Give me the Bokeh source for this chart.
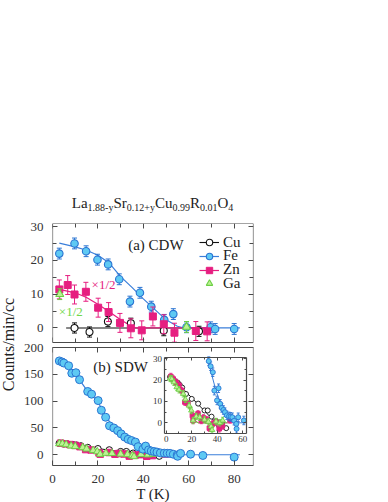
import numpy as np
from bokeh.plotting import figure
from bokeh.models import (Range1d, LinearAxis, FixedTicker, Label, Legend, LegendItem,
                          Spacer, Div)
from bokeh.layouts import column
from bokeh.embed import file_html
from bokeh.resources import INLINE

FONT = "Liberation Serif"

# ---------------- data: panel (a) CDW ----------------
cu_a_T = [9.7, 16.3, 24.4, 34.5, 49.0, 64.5]
cu_a_I = [0.0, -1.2, 1.9, 1.4, -0.8, -1.0]
cu_a_err = [1.5, 1.5, 1.5, 1.5, 1.5, 1.5]
cu_a_line_T = [6.0, 70.0]
cu_a_line_I = [0.0, 0.0]

fe_a_T = [3.0, 9.7, 14.8, 19.8, 24.5, 29.4, 34.1, 38.5, 43.5, 49.2, 53.2, 59.0, 69.6, 71.6, 80.0]
fe_a_I = [22.0, 25.0, 22.7, 20.2, 18.8, 14.4, 7.8, 10.4, 6.3, 2.4, 4.1, 0.2, 0.2, -0.3, -0.3]
fe_a_err = [1.6] * 15
fe_a_fit_T = [3, 10, 15, 20, 25, 30, 35, 40, 45, 50, 55, 58, 82.5]
fe_a_fit_I = [25.1, 24.0, 23.0, 21.5, 19.2, 15.2, 12.0, 8.6, 5.5, 2.4, 0.5, 0.0, 0.0]

zn_a_T = [3.0, 6.7, 9.7, 14.7, 20.1, 24.7, 29.7, 34.5, 39.3, 44.2, 49.0, 53.7, 63.1, 68.1]
zn_a_I = [11.4, 12.7, 9.9, 10.7, 6.0, 4.7, 1.5, -0.1, -0.7, 3.4, 1.1, -1.4, -0.9, -1.0]
zn_a_err = [2.8] * 14
zn_a_fit_T = [3, 10, 15, 20, 25, 30, 35, 37, 71]
zn_a_fit_I = [11.4, 10.4, 9.0, 7.0, 4.8, 2.4, 0.4, 0.0, 0.0]

ga_a_T = [3.2, 59.0]
ga_a_I = [10.0, 0.3]
ga_a_err = [1.6, 1.6]

# ---------------- data: panel (b) SDW ----------------
fe_b_T = [3.0, 4.2, 5.0, 7.1, 8.5, 10.3, 11.9, 15.5, 17.2, 20.1, 21.5, 23.4, 25.1, 27.0, 28.7,
          30.2, 31.8, 33.3, 34.8, 36.5, 37.7, 39.8, 41.0, 42.3, 43.5, 44.8, 46.0, 47.5, 49.2,
          50.5, 51.8, 53.2, 54.9, 55.1, 56.4, 60.8, 66.2, 80.0]
fe_b_I = [175, 173, 171, 166, 152, 153, 140, 118, 113, 101, 83, 70, 54, 50, 45,
          39, 33, 28.9, 26.5, 23.7, 15.1, 10.5, 16.2, 8.9, 7.0, 6.0, 5.0, 3.5, 3.0,
          2.8, 2.6, 1.0, -0.5, -2.8, 2.6, 1.1, -1.3, -4.4]
fe_b_err = [2.0] * 38
fe_b_fit_T = [3, 5, 8, 10, 12, 15, 18, 20, 22, 24, 26, 28, 30, 32.5, 35, 39, 42, 44.6, 48, 53.5, 55, 82.5]
fe_b_fit_I = [175, 171, 161, 151, 139, 121, 108, 98, 84, 69, 56, 47, 38, 30.5, 24, 15, 10, 6, 3, 0.3, 0, 0]

cu_b_T = [3, 5, 7, 9, 10.5, 12.5, 15.5, 20, 25, 30, 32.5, 35.5, 39, 41.5, 43.5, 47]
cu_b_I = [21.5, 20.5, 19.5, 18.8, 17.8, 16.5, 13.5, 11.2, 9.0, 5.8, 5.8, 2.9, 0.8, -1.5, -0.2, -2.5]
cu_b_fit_T = [2.5, 39]
cu_b_fit_I = [22.5, 0.0]

zn_b_T = [3.6, 5.5, 7.7, 10.0, 12.1, 14.6, 17.0, 20.5, 21.0, 24.9, 27.5, 29.2, 31.5, 33.8,
          36.4, 39.0, 41.5, 44.0, 50.0]
zn_b_I = [21.7, 20.5, 19.0, 17.5, 15.1, 9.7, 9.0, 3.4, 1.1, 4.2, 1.1, 2.3, 1.5, -2.5,
          -0.5, 0.3, -2.8, -1.5, 1.4]
zn_b_err = [1.5] * 19
zn_b_fit_T = [2.5, 10, 15, 20, 23, 25, 52]
zn_b_fit_I = [22.5, 17, 11.5, 4.5, 1, 0, 0]

ga_b_T = [3.0, 4.4, 6.0, 8.2, 10.0, 13.3, 15.0, 17.9, 19.7, 21.0, 23.5, 26.2, 30.0, 33.0,
          35.1, 35.9, 39.0, 42.0, 44.2]
ga_b_I = [20.8, 20.6, 19.0, 16.7, 15.5, 13.6, 11.0, 8.1, 5.8, 1.1, 3.0, 2.6, 1.5, 0.5,
          -1.7, -3.3, 0.6, 0.0, 1.1]
ga_b_err = [1.5] * 19
ga_b_fit_T = [2.5, 10, 15, 20, 23, 25, 48]
ga_b_fit_I = [21.5, 16.3, 11, 4, 0.5, 0, 0]

# ticks / labels
x_ticks = [0, 20, 40, 60, 80]
x_minor = [10, 30, 50, 70]
a_ticks = [0, 10, 20, 30]
a_minor = [5, 15, 25]
b_ticks = [0, 50, 100, 150, 200]
in_x_ticks = [0, 20, 40, 60]
in_x_minor = [10, 30, 50]
in_y_ticks = [0, 10, 20, 30]
in_y_minor = [5, 15, 25]

title_html = ("La<sub>1.88-y</sub>Sr<sub>0.12+y</sub>Cu<sub>0.99</sub>"
              "R<sub>0.01</sub>O<sub>4</sub>")
series_names = ["Cu", "Fe", "Zn", "Ga"]
x_label = "T (K)"
y_label = "Counts/min/cc"

# ---------------- styles / geometry ----------------
FE_FILL = "#5ec9f3"
FE_EDGE = "#2a74d2"
FE_LINE = "#3b7fda"
ZN = "#e61e80"
CU = "#111111"
GA_FILL = "#bdf294"
GA_EDGE = "#6ccf45"
GA_TEXT = "#70d84c"
AX = "#4a4a4a"

X_RANGE = (0, 88.5)
A_YR = (-4.3, 30.9)
B_YR = (-20, 200)
FRAME_W = 205
SHIFT = 4
MBL, MBR, MBT, MBB = 50 + SHIFT, 6, 6, 35
PANEL_A_PX, GAP_PX, PANEL_B_PX = 119, 5, 118
FRAME_H = PANEL_A_PX + GAP_PX + PANEL_B_PX

IN_X = (-1.0, 63.0)
IN_Y = (-5.0, 30.6)
# inset box inside the frame, as fractions of the frame
IN_FL, IN_FR = 114.7 / FRAME_W, 198.0 / FRAME_W
IN_FB, IN_FT = 32.0 / FRAME_H, 108.0 / FRAME_H


def add_axis(p, side, ticks, minor, labels, tick_in=5, minor_in=4, size="13px",
             standoff=4, **kw):
    ax = LinearAxis(ticker=FixedTicker(ticks=ticks, minor_ticks=minor), **kw)
    ax.major_tick_in = tick_in
    ax.major_tick_out = 0
    ax.minor_tick_in = minor_in
    ax.minor_tick_out = 0
    ax.axis_line_color = AX
    ax.axis_line_width = 1.2
    ax.major_tick_line_color = AX
    ax.minor_tick_line_color = AX
    if labels:
        ax.major_label_text_font = FONT
        ax.major_label_text_font_size = size
        ax.major_label_text_color = "#333333"
        ax.major_label_standoff = standoff
    else:
        ax.major_label_overrides = {t: "" for t in ticks}
        ax.major_label_text_font_size = "0px"
        ax.major_label_standoff = 0
    p.add_layout(ax, side)
    return ax


def errbars(p, xs, ys, es, color, cap=5, width=1.0, **rn):
    xs = np.asarray(xs, float)
    ys = np.asarray(ys, float)
    es = np.asarray(es, float)
    p.segment(x0=xs, y0=ys - es, x1=xs, y1=ys + es, line_color=color, line_width=width, **rn)
    p.scatter(x=np.r_[xs, xs], y=np.r_[ys - es, ys + es], marker="dash", size=cap,
              line_color=color, line_width=width, **rn)


def clip_polyline(xs, ys, x0, x1, y0, y1):
    pieces, cx, cy = [], [], []
    for i in range(len(xs) - 1):
        ax_, ay_, bx_, by_ = xs[i], ys[i], xs[i + 1], ys[i + 1]
        dx, dy = bx_ - ax_, by_ - ay_
        t0, t1, ok = 0.0, 1.0, True
        for pp, qq in ((-dx, ax_ - x0), (dx, x1 - ax_), (-dy, ay_ - y0), (dy, y1 - ay_)):
            if pp == 0:
                if qq < 0:
                    ok = False
                    break
            else:
                t = qq / pp
                if pp < 0:
                    if t > t1:
                        ok = False
                        break
                    t0 = max(t0, t)
                else:
                    if t < t0:
                        ok = False
                        break
                    t1 = min(t1, t)
        if not ok:
            continue
        sx0, sy0, sx1, sy1 = ax_ + t0 * dx, ay_ + t0 * dy, ax_ + t1 * dx, ay_ + t1 * dy
        if cx and abs(cx[-1] - sx0) < 1e-9 and abs(cy[-1] - sy0) < 1e-9:
            cx.append(sx1)
            cy.append(sy1)
        else:
            if cx:
                pieces.append((cx, cy))
            cx, cy = [sx0, sx1], [sy0, sy1]
    if cx:
        pieces.append((cx, cy))
    return pieces


def inside(xs, ys):
    xs = np.asarray(xs, float)
    ys = np.asarray(ys, float)
    return (xs >= IN_X[0]) & (xs <= IN_X[1]) & (ys >= IN_Y[0]) & (ys <= IN_Y[1])


# ---------------- one figure holding both panels ----------------
main_y_end = B_YR[0] + (B_YR[1] - B_YR[0]) * FRAME_H / PANEL_B_PX
p = figure(frame_width=FRAME_W, frame_height=FRAME_H,
           x_range=Range1d(*X_RANGE), y_range=Range1d(B_YR[0], main_y_end),
           output_backend="svg", toolbar_location=None,
           x_axis_location=None, y_axis_location=None,
           min_border_left=MBL, min_border_right=MBR,
           min_border_top=MBT, min_border_bottom=MBB, margin=(0, 0, 0, -SHIFT))
p.xgrid.visible = False
p.ygrid.visible = False
p.outline_line_color = None

ya_start = A_YR[1] - (A_YR[1] - A_YR[0]) * FRAME_H / PANEL_A_PX
p.extra_y_ranges = {"ya": Range1d(ya_start, A_YR[1])}
RA = dict(y_range_name="ya")


def a_to_main(v):
    frac = (v - ya_start) / (A_YR[1] - ya_start)
    return B_YR[0] + frac * (main_y_end - B_YR[0])


span_x = (IN_X[1] - IN_X[0]) / (IN_FR - IN_FL)
span_y = (IN_Y[1] - IN_Y[0]) / (IN_FT - IN_FB)
ix_start = IN_X[0] - IN_FL * span_x
iy_start = IN_Y[0] - IN_FB * span_y
p.extra_x_ranges = {"ix": Range1d(ix_start, ix_start + span_x)}
p.extra_y_ranges["iy"] = Range1d(iy_start, iy_start + span_y)
RN = dict(x_range_name="ix", y_range_name="iy")

# shared left axis: tick labels of both panels + the y label (no line, no ticks)
lab_pos = [a_to_main(v) for v in a_ticks] + [float(v) for v in b_ticks]
lab_txt = [str(v) for v in a_ticks] + [str(v) for v in b_ticks]
ylab_ax = LinearAxis(ticker=FixedTicker(ticks=lab_pos, minor_ticks=[]), axis_label=y_label,
                     major_label_overrides=dict(zip(lab_pos, lab_txt)))
ylab_ax.axis_line_color = None
ylab_ax.major_tick_line_color = None
ylab_ax.minor_tick_line_color = None
ylab_ax.major_tick_out = 0
ylab_ax.major_tick_in = 0
ylab_ax.major_label_text_font = FONT
ylab_ax.major_label_text_font_size = "13px"
ylab_ax.major_label_text_color = "#333333"
ylab_ax.major_label_standoff = 9
ylab_ax.axis_label_text_font = FONT
ylab_ax.axis_label_text_font_size = "16px"
ylab_ax.axis_label_text_font_style = "normal"
ylab_ax.axis_label_text_color = "#222222"
ylab_ax.axis_label_standoff = 4
p.add_layout(ylab_ax, "left")

# panel (a) frame
add_axis(p, "left", a_ticks, a_minor, False, fixed_location=X_RANGE[0], bounds=A_YR, **RA)
add_axis(p, "right", a_ticks, a_minor, False, fixed_location=X_RANGE[1], bounds=A_YR, **RA)
add_axis(p, "below", x_ticks, x_minor, False, fixed_location=A_YR[0], **RA)
add_axis(p, "above", x_ticks, x_minor, False, fixed_location=A_YR[1], **RA)

# panel (b) frame
add_axis(p, "left", b_ticks, [], False, fixed_location=X_RANGE[0], bounds=B_YR)
add_axis(p, "right", b_ticks, [], False, fixed_location=X_RANGE[1], bounds=B_YR)
add_axis(p, "above", x_ticks, x_minor, False, fixed_location=B_YR[1])
xb = add_axis(p, "below", x_ticks, x_minor, True, standoff=9)
xb.axis_label = x_label
xb.axis_label_text_font = FONT
xb.axis_label_text_font_size = "15px"
xb.axis_label_text_font_style = "normal"
xb.axis_label_text_color = "#222222"
xb.axis_label_standoff = 0

# ================= panel (a) data =================
cu_line = p.line(cu_a_line_T, cu_a_line_I, line_color=CU, line_width=1.1, **RA)
fe_line = p.line(fe_a_fit_T, fe_a_fit_I, line_color=FE_LINE, line_width=1.2, **RA)
zn_line = p.line(zn_a_fit_T, zn_a_fit_I, line_color=ZN, line_width=1.2, **RA)
ga_line = p.line(x=[], y=[], line_color=GA_EDGE, line_width=1.2, **RA)

errbars(p, cu_a_T, cu_a_I, cu_a_err, CU, cap=5, **RA)
cu_pts = p.scatter(cu_a_T, cu_a_I, marker="circle", size=7, fill_color="white",
                   line_color=CU, line_width=1.1, **RA)
errbars(p, fe_a_T, fe_a_I, fe_a_err, FE_EDGE, cap=5, **RA)
fe_pts = p.scatter(fe_a_T, fe_a_I, marker="circle", size=7.5, fill_color=FE_FILL,
                   line_color=FE_EDGE, line_width=1.1, **RA)
errbars(p, zn_a_T, zn_a_I, zn_a_err, ZN, cap=5, **RA)
zn_pts = p.scatter(zn_a_T, zn_a_I, marker="square", size=7, fill_color=ZN,
                   line_color=ZN, line_width=1, **RA)
errbars(p, ga_a_T, ga_a_I, ga_a_err, GA_EDGE, cap=5, **RA)
ga_pts = p.scatter(ga_a_T, ga_a_I, marker="triangle", size=8, fill_color=GA_FILL,
                   line_color=GA_EDGE, line_width=1.1, **RA)

p.add_layout(Label(x=45.5, y=24.6, text="(a) CDW", text_font=FONT, text_font_size="15px",
                   text_align="center", text_baseline="middle", text_color="#222222", **RA))
p.add_layout(Label(x=17.2, y=12.9, text="×1/2", text_font=FONT, text_font_size="13px",
                   text_align="left", text_baseline="middle", text_color=ZN, **RA))
p.add_layout(Label(x=2.8, y=5.0, text="×1/2", text_font=FONT, text_font_size="13px",
                   text_align="left", text_baseline="middle", text_color=GA_TEXT, **RA))

leg_renderers = [[cu_line, cu_pts], [fe_line, fe_pts], [zn_line, zn_pts], [ga_line, ga_pts]]
leg_centers_px = [100.3, 87.0, 72.7, 59.3]   # above panel (a) bottom
for name, rs, cy in zip(series_names, leg_renderers, leg_centers_px):
    lg = Legend(items=[LegendItem(label=name, renderers=rs)],
                location=(147, cy - 9 + GAP_PX + PANEL_B_PX),
                orientation="vertical", glyph_width=20, glyph_height=16, label_standoff=4,
                padding=0, margin=0, spacing=0, border_line_color=None,
                background_fill_alpha=0, label_text_font=FONT, label_text_font_size="15px",
                label_text_color="#222222")
    p.add_layout(lg)

# ================= panel (b) data =================
p.line(cu_b_fit_T, cu_b_fit_I, line_color=CU, line_width=1)
p.line(zn_b_fit_T, zn_b_fit_I, line_color=ZN, line_width=1)
p.line(ga_b_fit_T, ga_b_fit_I, line_color=GA_EDGE, line_width=1)
p.line(fe_b_fit_T, fe_b_fit_I, line_color=FE_LINE, line_width=1.2)
p.scatter(cu_b_T, cu_b_I, marker="circle", size=6.5, fill_color="white", line_color=CU,
          line_width=1)
p.scatter(zn_b_T, zn_b_I, marker="square", size=6.5, fill_color=ZN, line_color=ZN)
p.scatter(ga_b_T, ga_b_I, marker="triangle", size=7.5, fill_color=GA_FILL,
          line_color=GA_EDGE, line_width=1)
p.scatter(fe_b_T, fe_b_I, marker="circle", size=8, fill_color=FE_FILL, line_color=FE_EDGE,
          line_width=1)

p.add_layout(Label(x=30.0, y=164, text="(b) SDW", text_font=FONT, text_font_size="15px",
                   text_align="center", text_baseline="middle", text_color="#222222"))

# ----- inset -----
add_axis(p, "below", in_x_ticks, in_x_minor, True, tick_in=3, minor_in=2, size="9px",
         standoff=2, fixed_location=IN_Y[0], bounds=IN_X, **RN)
add_axis(p, "left", in_y_ticks, in_y_minor, True, tick_in=3, minor_in=2, size="9px",
         standoff=3, fixed_location=IN_X[0], bounds=IN_Y, **RN)
add_axis(p, "right", in_y_ticks, in_y_minor, False, tick_in=3, minor_in=2,
         fixed_location=IN_X[1], bounds=IN_Y, **RN)
add_axis(p, "above", in_x_ticks, in_x_minor, False, tick_in=3, minor_in=2,
         fixed_location=IN_Y[1], bounds=IN_X, **RN)

for fx, fy, col in ((cu_b_fit_T, cu_b_fit_I, CU), (zn_b_fit_T, zn_b_fit_I, ZN),
                    (ga_b_fit_T, ga_b_fit_I, GA_EDGE), (fe_b_fit_T, fe_b_fit_I, FE_LINE)):
    pieces = clip_polyline(fx, fy, IN_X[0], IN_X[1], IN_Y[0], IN_Y[1])
    if pieces:
        p.multi_line(xs=[pc[0] for pc in pieces], ys=[pc[1] for pc in pieces],
                     line_color=col, line_width=1, **RN)

m = inside(cu_b_T, cu_b_I)
p.scatter(np.array(cu_b_T)[m], np.array(cu_b_I)[m], marker="circle", size=5,
          fill_color="white", line_color=CU, line_width=0.9, **RN)
m = inside(zn_b_T, zn_b_I)
errbars(p, np.array(zn_b_T)[m], np.array(zn_b_I)[m], np.array(zn_b_err)[m], ZN, cap=3,
        width=0.9, **RN)
p.scatter(np.array(zn_b_T)[m], np.array(zn_b_I)[m], marker="square", size=4.5,
          fill_color=ZN, line_color=ZN, **RN)
m = inside(ga_b_T, ga_b_I)
errbars(p, np.array(ga_b_T)[m], np.array(ga_b_I)[m], np.array(ga_b_err)[m], GA_EDGE, cap=3,
        width=0.9, **RN)
p.scatter(np.array(ga_b_T)[m], np.array(ga_b_I)[m], marker="triangle", size=5.5,
          fill_color=GA_FILL, line_color=GA_EDGE, line_width=0.9, **RN)
m = inside(fe_b_T, fe_b_I)
errbars(p, np.array(fe_b_T)[m], np.array(fe_b_I)[m], np.array(fe_b_err)[m], FE_EDGE, cap=3,
        width=0.9, **RN)
p.scatter(np.array(fe_b_T)[m], np.array(fe_b_I)[m], marker="circle", size=5,
          fill_color=FE_FILL, line_color=FE_EDGE, line_width=0.9, **RN)

# ================= title =================
fig_w = MBL + FRAME_W + MBR - SHIFT
sub_style = '<sub style="font-size:10px;vertical-align:-3px;line-height:0">'
title = Div(text=('<div style="display:block;width:%dpx;margin-left:%dpx;'
                  'font-family:\'Liberation Serif\';font-size:15px;line-height:27px;'
                  'text-align:center;white-space:nowrap;color:#222;">%s</div>'
                  % (FRAME_W, MBL - SHIFT, title_html.replace("<sub>", sub_style))),
            width=fig_w, height=27, margin=(0, 0, 0, 0))

layout = column(Spacer(width=1, height=190), title, p)

open("out.html", "w").write(file_html(layout, INLINE))
